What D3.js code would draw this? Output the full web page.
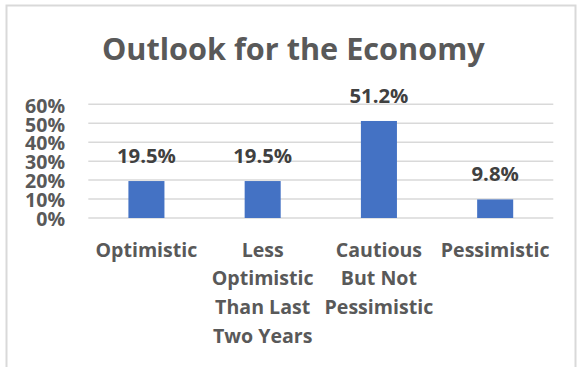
<!DOCTYPE html>
<html><head><meta charset="utf-8">
<script src="https://cdn.jsdelivr.net/npm/d3@7"></script>
<style>
html,body{margin:0;padding:0;background:#fff;}
svg{display:block;font-family:"Open Sans",sans-serif;font-weight:700;}
</style></head>
<body>
<script>
const categories = [
  ["Optimistic"],
  ["Less", "Optimistic", "Than Last", "Two Years"],
  ["Cautious", "But Not", "Pessimistic"],
  ["Pessimistic"]
];
const values = [19.5, 19.5, 51.2, 9.8];
const valueLabels = ["19.5%", "19.5%", "51.2%", "9.8%"];
const yTicks = [0, 10, 20, 30, 40, 50, 60];
const title = "Outlook for the Economy";

const W = 577, H = 367;
const FONT = '"Open Sans",sans-serif';
const svg = d3.select("body").append("svg").attr("width", W).attr("height", H);

// fit a font size so that a sample string has the wanted width
function fitSize(sample, target, base) {
  const t = svg.append("text").style("font-family", FONT).style("font-weight", 700)
    .style("font-size", base + "px").text(sample);
  const w = t.node().getComputedTextLength();
  t.remove();
  return base * target / w;
}
const titleSize = fitSize(title, 383, 30);
const catSize = fitSize("Optimistic", 102, 18);
const valSize = fitSize("19.5%", 59, 18);
const tickSize = fitSize("60%", 40, 16);

// chart border (extends beyond the window on the right / bottom)
svg.append("rect").attr("x", 6.5).attr("y", 5.5).attr("width", 569).attr("height", 380)
  .attr("fill", "#fff").attr("stroke", "#d9d9d9").attr("stroke-width", 2);

const x = d3.scaleBand().domain(d3.range(categories.length)).range([88.3, 553.3]).padding(0);
const y = d3.scaleLinear().domain([0, 60]).range([218, 104.3]);
const barW = x.bandwidth() * 0.31;

// gridlines
svg.append("g").selectAll("line").data(yTicks).join("line")
  .attr("x1", 88.3).attr("x2", 553.3)
  .attr("y1", d => y(d)).attr("y2", d => y(d))
  .attr("stroke", "#d9d9d9").attr("stroke-width", 1.5);

// y axis labels
const yAxis = d3.axisLeft(y).tickValues(yTicks).tickFormat(d => d + "%").tickSize(0).tickPadding(0);
const yg = svg.append("g").attr("transform", "translate(65,1.5)").call(yAxis);
yg.select(".domain").remove();
yg.selectAll("text").attr("fill", "#595959").style("font-size", tickSize + "px")
  .style("font-family", FONT).style("font-weight", 700);

// bars
svg.append("g").selectAll("rect").data(values).join("rect")
  .attr("x", (d, i) => x(i) + x.bandwidth() / 2 - barW / 2)
  .attr("y", d => y(d)).attr("width", barW).attr("height", d => y(0) - y(d))
  .attr("fill", "#4472c4");

// data labels
svg.append("g").selectAll("text").data(values).join("text")
  .attr("x", (d, i) => x(i) + x.bandwidth() / 2)
  .attr("y", d => y(d) - 18)
  .attr("text-anchor", "middle").attr("fill", "#404040").style("font-size", valSize + "px")
  .text((d, i) => valueLabels[i]);

// category labels
const cg = svg.append("g").selectAll("text").data(categories).join("text")
  .attr("text-anchor", "middle").attr("fill", "#595959").style("font-size", catSize + "px")
  .attr("x", (d, i) => x(i) + x.bandwidth() / 2).attr("y", 256.7);
cg.selectAll("tspan").data((d, i) => d.map(t => ({t, i}))).join("tspan")
  .attr("x", d => x(d.i) + x.bandwidth() / 2)
  .attr("dy", (d, j) => j === 0 ? 0 : 28.6)
  .text(d => d.t);

// title
svg.append("text").attr("x", 293.3).attr("y", 60).attr("text-anchor", "middle")
  .attr("fill", "#595959").style("font-size", titleSize + "px").text(title);
</script>
</body></html>
